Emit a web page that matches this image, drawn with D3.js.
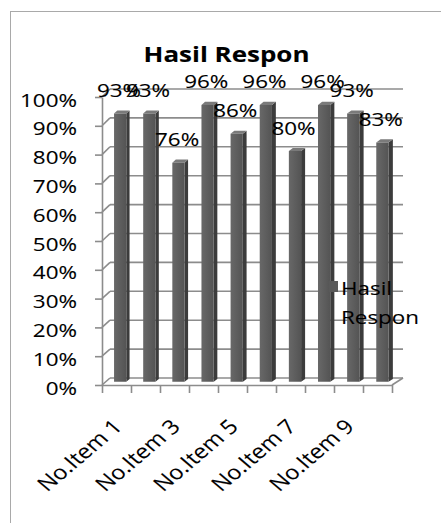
<!DOCTYPE html>
<html>
<head>
<meta charset="utf-8">
<script src="https://cdn.jsdelivr.net/npm/d3@7"></script>
<style>
  body { margin: 0; background: #fff; }
  svg { display: block; font-family: "Open Sans", sans-serif; }
  text { stroke: #000; stroke-width: 0.1px; }
</style>
</head>
<body>
<svg id="chart" width="441" height="523"></svg>
<script>
// data
var categories = ["No.Item 1", "No.Item 2", "No.Item 3", "No.Item 4", "No.Item 5",
                  "No.Item 6", "No.Item 7", "No.Item 8", "No.Item 9", "No.Item 10"];
var values = [0.93, 0.93, 0.76, 0.96, 0.86, 0.96, 0.80, 0.96, 0.93, 0.83];
var yTicks = [0, 0.1, 0.2, 0.3, 0.4, 0.5, 0.6, 0.7, 0.8, 0.9, 1.0];
var shownLabels = ["No.Item 1", "No.Item 3", "No.Item 5", "No.Item 7", "No.Item 9"];
var seriesName = ["Hasil", "Respon"];
var title = "Hasil Respon";

var SX = 1.18; // the picture is stretched sideways, so is the text
var gridColor = "#8c8c8c";
var fs = 19;

var svg = d3.select("#chart");

// chart border (runs off the right and bottom)
svg.append("rect")
   .attr("x", 10.5).attr("y", 11.5)
   .attr("width", 440).attr("height", 520)
   .attr("fill", "none").attr("stroke", "#a9a9a9");

// front and back planes of the 3d box
var xFront = d3.scaleBand().domain(categories).range([102, 392]);
var xBack = d3.scaleBand().domain(categories).range([110, 403]);
var xEdge = d3.scaleLinear().domain([0, categories.length]).range([102, 392]);
var yFront = d3.scaleLinear().domain([0, 1]).range([385, 97]);
var yBack = d3.scaleLinear().domain([0, 1]).range([378, 89]);

function px(cat, off, d){
    var f = xFront(cat) + off * xFront.bandwidth();
    var b = xBack(cat) + off * xBack.bandwidth();
    return f + (b - f) * d;
}
function py(v, d){
    return yFront(v) + (yBack(v) - yFront(v)) * d;
}

function stretched(sel, x, y, extra){
    sel.attr("transform", "translate(" + x + "," + y + ") scale(" + SX + ",1)" + (extra || ""));
}

// back wall gridlines + side wall slants
var grid = svg.append("g").attr("stroke", gridColor).attr("stroke-width", 1.6).attr("fill", "none");
yTicks.forEach(function(v){
    grid.append("line")
        .attr("x1", 110).attr("x2", 403)
        .attr("y1", yBack(v)).attr("y2", yBack(v));
    grid.append("line")
        .attr("x1", 102).attr("x2", 110)
        .attr("y1", yFront(v)).attr("y2", yBack(v));
});
// floor right edge
grid.append("line")
    .attr("x1", 392).attr("y1", yFront(0))
    .attr("x2", 403).attr("y2", yBack(0));

// value axis
var yAxis = svg.append("g")
    .attr("transform", "translate(102,0)")
    .call(d3.axisLeft(yFront).tickValues(yTicks).tickSize(7).tickSizeOuter(0).tickPadding(18)
            .tickFormat(d3.format(".0%")));
yAxis.selectAll("path, line").attr("stroke", gridColor).attr("stroke-width", 1.6);
yAxis.selectAll("text")
    .attr("font-family", "Open Sans").attr("font-size", fs).attr("fill", "#000")
    .attr("text-anchor", "end")
    .each(function(){
        var t = d3.select(this);
        stretched(t, -25, 2.5);
        t.attr("x", 0).attr("dy", "0.35em");
    });

// category axis (front floor edge)
var xAxis = svg.append("g")
    .attr("transform", "translate(0," + yFront(0) + ")")
    .call(d3.axisBottom(xEdge).tickValues(d3.range(categories.length + 1)).tickSize(8)
            .tickSizeOuter(0).tickFormat(""));
xAxis.selectAll("path, line").attr("stroke", gridColor).attr("stroke-width", 1.6);

// bars
var d1 = 0.45, d2 = 0.85, l = 0.29, r = 0.71;
var defs = svg.append("defs");
var grad = defs.append("linearGradient").attr("id", "face");
grad.append("stop").attr("offset", "0%").attr("stop-color", "#686868");
grad.append("stop").attr("offset", "100%").attr("stop-color", "#545454");

var bars = svg.append("g").selectAll("g").data(categories).join("g");
function pts(a){ return a.map(function(p){ return p.join(","); }).join(" "); }

bars.append("polygon") // side
    .attr("fill", "#3c3c3c")
    .attr("points", function(c, i){
        var v = values[i];
        return pts([[px(c, r, d1), py(0, d1)], [px(c, r, d2), py(0, d2)],
                    [px(c, r, d2), py(v, d2)], [px(c, r, d1), py(v, d1)]]);
    });
bars.append("polygon") // top
    .attr("fill", "#7a7a7a")
    .attr("points", function(c, i){
        var v = values[i];
        return pts([[px(c, l, d1), py(v, d1)], [px(c, r, d1), py(v, d1)],
                    [px(c, r, d2), py(v, d2)], [px(c, l, d2), py(v, d2)]]);
    });
bars.append("polygon") // front
    .attr("fill", "url(#face)")
    .attr("points", function(c, i){
        var v = values[i];
        return pts([[px(c, l, d1), py(0, d1)], [px(c, r, d1), py(0, d1)],
                    [px(c, r, d1), py(v, d1)], [px(c, l, d1), py(v, d1)]]);
    });

// data labels
svg.append("g").selectAll("text").data(categories).join("text")
    .attr("font-size", fs).attr("fill", "#000").attr("text-anchor", "middle")
    .text(function(c, i){ return d3.format(".0%")(values[i]); })
    .each(function(c, i){
        stretched(d3.select(this), px(c, 0.5, 0.3), py(values[i], 0.65) - 15);
    });

// category labels, every other one
svg.append("g").selectAll("text").data(shownLabels).join("text")
    .attr("font-size", 20).attr("fill", "#000").attr("text-anchor", "end")
    .text(function(c){ return c; })
    .each(function(c){
        stretched(d3.select(this), xFront(c) + xFront.bandwidth() / 2 + 7, 428, " rotate(-45)");
    });

// legend
svg.append("rect")
    .attr("x", 329).attr("y", 281).attr("width", 9).attr("height", 11)
    .attr("fill", "#595959");
svg.append("g").selectAll("text").data(seriesName).join("text")
    .attr("font-size", fs).attr("fill", "#000")
    .text(function(s){ return s; })
    .each(function(s, i){
        stretched(d3.select(this), 341, 295 + i * 28.5);
    });

// title
stretched(svg.append("text")
    .attr("font-size", 22).attr("font-weight", "bold").attr("fill", "#000")
    .attr("text-anchor", "middle")
    .text(title), 226.5, 62);
</script>
</body>
</html>
